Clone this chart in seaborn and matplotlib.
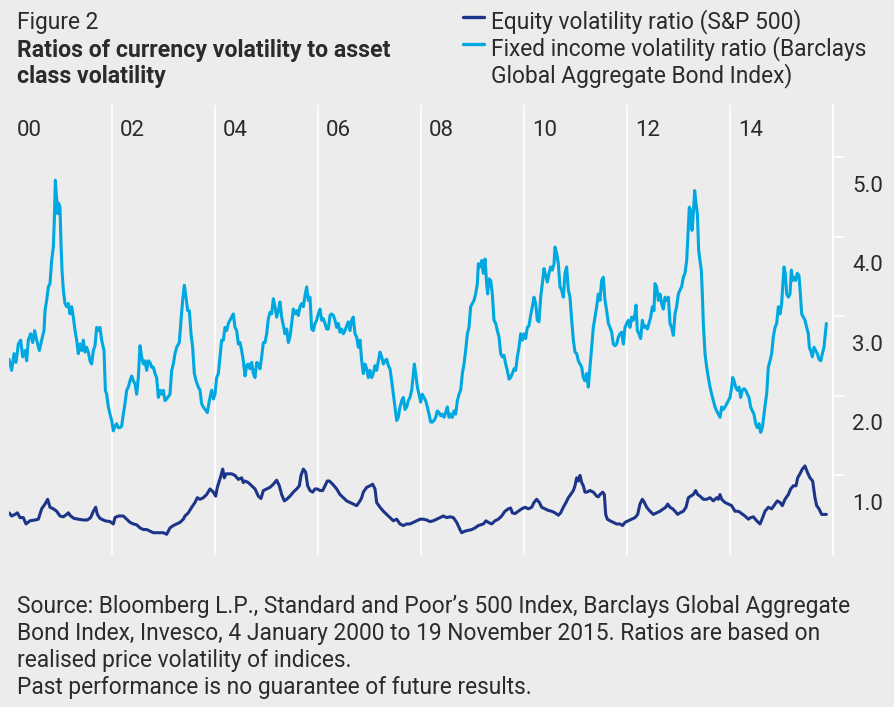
import matplotlib
matplotlib.use("Agg")
import matplotlib.pyplot as plt
import matplotlib.transforms as mtransforms
from matplotlib.lines import Line2D
import seaborn as sns
import pandas as pd

# ───────────── data (years since 4 Jan 2000, ratio) ─────────────
fi_t = [0.000, 0.052, 0.097, 0.136, 0.181, 0.227, 0.265, 0.311, 0.343, 0.375, 0.421, 0.460, 0.498, 0.537, 0.589,
        0.634, 0.680, 0.699, 0.731, 0.764, 0.796, 0.828, 0.861, 0.880, 0.900, 0.926, 0.945, 0.964, 0.990, 1.010,
        1.029, 1.055, 1.087, 1.120, 1.152, 1.184, 1.217, 1.249, 1.282, 1.314, 1.346, 1.379, 1.411, 1.443, 1.476,
        1.508, 1.540, 1.573, 1.605, 1.638, 1.670, 1.702, 1.735, 1.767, 1.799, 1.845, 1.871, 1.896, 1.929, 1.961,
        1.994, 2.026, 2.058, 2.091, 2.123, 2.155, 2.188, 2.220, 2.252, 2.285, 2.317, 2.350, 2.382, 2.414, 2.447,
        2.479, 2.511, 2.544, 2.576, 2.608, 2.641, 2.673, 2.706, 2.738, 2.770, 2.803, 2.835, 2.867, 2.900, 2.932,
        2.964, 2.997, 3.029, 3.061, 3.126, 3.159, 3.191, 3.223, 3.256, 3.307, 3.340, 3.372, 3.405, 3.437, 3.469,
        3.502, 3.534, 3.566, 3.599, 3.631, 3.676, 3.709, 3.741, 3.773, 3.806, 3.851, 3.890, 3.935, 3.968, 4.000,
        4.032, 4.065, 4.097, 4.129, 4.162, 4.194, 4.227, 4.259, 4.291, 4.324, 4.356, 4.388, 4.421, 4.453, 4.485,
        4.518, 4.550, 4.583, 4.615, 4.647, 4.680, 4.712, 4.744, 4.777, 4.809, 4.841, 4.874, 4.906, 4.939, 4.971,
        5.003, 5.036, 5.068, 5.100, 5.133, 5.165, 5.197, 5.230, 5.262, 5.294, 5.327, 5.359, 5.392, 5.424, 5.456,
        5.489, 5.521, 5.553, 5.586, 5.618, 5.650, 5.683, 5.715, 5.748, 5.780, 5.812, 5.845, 5.877, 5.909, 5.942,
        5.974, 6.006, 6.039, 6.071, 6.104, 6.136, 6.168, 6.201, 6.233, 6.265, 6.298, 6.330, 6.362, 6.395, 6.427,
        6.460, 6.492, 6.524, 6.557, 6.589, 6.621, 6.654, 6.686, 6.718, 6.751, 6.783, 6.816, 6.848, 6.880, 6.913,
        6.945, 6.977, 7.010, 7.042, 7.074, 7.107, 7.139, 7.172, 7.204, 7.236, 7.269, 7.301, 7.333, 7.366, 7.398,
        7.430, 7.463, 7.495, 7.528, 7.560, 7.592, 7.625, 7.657, 7.689, 7.722, 7.754, 7.786, 7.819, 7.851, 7.871,
        7.896, 7.929, 7.961, 7.994, 8.026, 8.058, 8.091, 8.123, 8.155, 8.188, 8.220, 8.252, 8.285, 8.317, 8.350,
        8.382, 8.414, 8.447, 8.479, 8.511, 8.544, 8.576, 8.608, 8.641, 8.673, 8.706, 8.738, 8.770, 8.803, 8.835,
        8.867, 8.900, 8.932, 8.964, 8.997, 9.029, 9.061, 9.094, 9.113, 9.146, 9.178, 9.210, 9.243, 9.275, 9.294,
        9.320, 9.353, 9.385, 9.417, 9.450, 9.482, 9.515, 9.547, 9.579, 9.612, 9.644, 9.676, 9.709, 9.741, 9.773,
        9.806, 9.838, 9.871, 9.903, 9.935, 9.968, 10.000, 10.032, 10.065, 10.097, 10.129, 10.162, 10.194, 10.227,
        10.259, 10.291, 10.324, 10.356, 10.388, 10.421, 10.453, 10.485, 10.518, 10.550, 10.583, 10.602, 10.634,
        10.667, 10.699, 10.731, 10.764, 10.796, 10.828, 10.861, 10.893, 10.926, 10.958, 10.990, 11.023, 11.055,
        11.087, 11.120, 11.152, 11.184, 11.217, 11.249, 11.282, 11.314, 11.346, 11.379, 11.411, 11.443, 11.476,
        11.508, 11.540, 11.573, 11.605, 11.638, 11.670, 11.702, 11.735, 11.767, 11.799, 11.832, 11.864, 11.896,
        11.929, 11.961, 11.994, 12.026, 12.058, 12.091, 12.123, 12.155, 12.175, 12.201, 12.233, 12.265, 12.298,
        12.330, 12.362, 12.395, 12.427, 12.460, 12.492, 12.524, 12.544, 12.576, 12.608, 12.641, 12.673, 12.706,
        12.738, 12.770, 12.803, 12.835, 12.867, 12.900, 12.932, 12.964, 12.997, 13.029, 13.061, 13.094, 13.126,
        13.159, 13.191, 13.210, 13.236, 13.262, 13.288, 13.314, 13.340, 13.366, 13.392, 13.417, 13.443, 13.463,
        13.482, 13.515, 13.547, 13.579, 13.612, 13.644, 13.676, 13.709, 13.741, 13.773, 13.806, 13.838, 13.871,
        13.903, 13.935, 13.968, 14.000, 14.032, 14.052, 14.078, 14.110, 14.142, 14.175, 14.207, 14.239, 14.272,
        14.304, 14.337, 14.369, 14.401, 14.434, 14.466, 14.498, 14.531, 14.563, 14.595, 14.628, 14.660, 14.693,
        14.712, 14.744, 14.777, 14.809, 14.841, 14.874, 14.906, 14.939, 14.971, 15.003, 15.023, 15.049, 15.074,
        15.100, 15.133, 15.165, 15.191, 15.217, 15.243, 15.275, 15.307, 15.340, 15.366, 15.392, 15.424, 15.456,
        15.489, 15.521, 15.540, 15.566, 15.599, 15.631, 15.663, 15.696, 15.728, 15.761, 15.793, 15.825, 15.851,
        15.871]
fi_ratio = [2.46, 2.32, 2.53, 2.42, 2.65, 2.70, 2.49, 2.57, 2.44, 2.70, 2.78, 2.67, 2.82, 2.70, 2.57,
            2.70, 2.82, 3.07, 3.20, 3.37, 3.41, 3.70, 3.87, 4.21, 4.71, 4.46, 4.29, 4.42, 4.37, 3.91,
            3.58, 3.33, 3.16, 3.12, 3.16, 3.03, 3.12, 2.99, 2.82, 2.70, 2.53, 2.65, 2.57, 2.70, 2.55,
            2.61, 2.55, 2.44, 2.40, 2.57, 2.63, 2.86, 2.82, 2.86, 2.70, 2.57, 2.07, 2.02, 1.86, 1.77,
            1.69, 1.56, 1.62, 1.65, 1.60, 1.60, 1.62, 1.77, 1.90, 2.07, 2.11, 2.19, 2.25, 2.19, 2.15,
            2.02, 2.23, 2.63, 2.49, 2.40, 2.44, 2.32, 2.44, 2.42, 2.36, 2.36, 2.28, 2.23, 1.98, 2.07,
            2.02, 2.07, 1.94, 1.96, 2.02, 2.32, 2.40, 2.53, 2.61, 2.67, 2.95, 3.20, 3.39, 3.24, 3.07,
            3.07, 2.78, 2.61, 2.28, 2.19, 2.11, 2.07, 1.90, 1.86, 1.83, 1.79, 1.94, 2.07, 1.96, 2.02,
            2.23, 2.28, 2.49, 2.70, 2.70, 2.86, 2.82, 2.91, 2.95, 2.99, 3.03, 2.86, 2.82, 2.65, 2.67,
            2.57, 2.44, 2.25, 2.38, 2.40, 2.34, 2.42, 2.28, 2.23, 2.42, 2.40, 2.34, 2.49, 2.67, 2.67,
            2.78, 2.97, 3.05, 3.03, 3.22, 3.12, 2.99, 3.07, 3.18, 2.99, 2.88, 2.78, 2.84, 2.67, 2.74,
            2.91, 3.09, 3.03, 3.07, 3.01, 3.12, 3.16, 3.12, 3.26, 3.37, 3.20, 3.24, 2.84, 2.82, 2.91,
            2.95, 3.03, 3.09, 2.95, 2.97, 2.91, 2.84, 2.84, 3.01, 3.03, 3.01, 2.95, 2.86, 2.91, 2.80,
            2.84, 2.78, 2.82, 2.88, 2.93, 2.82, 2.95, 2.99, 2.78, 2.74, 2.61, 2.70, 2.44, 2.28, 2.40,
            2.34, 2.23, 2.32, 2.23, 2.28, 2.38, 2.32, 2.44, 2.55, 2.49, 2.40, 2.44, 2.46, 2.38, 2.34,
            2.19, 2.02, 1.86, 1.69, 1.73, 1.86, 1.94, 1.98, 1.83, 1.86, 1.94, 1.98, 2.07, 2.28, 2.40,
            2.28, 2.11, 2.02, 1.92, 2.02, 1.98, 1.94, 1.86, 1.77, 1.67, 1.67, 1.69, 1.73, 1.81, 1.79,
            1.75, 1.77, 1.73, 1.79, 1.86, 1.73, 1.77, 1.73, 1.81, 1.77, 1.94, 2.02, 2.07, 2.28, 2.40,
            2.57, 2.78, 2.86, 3.12, 3.16, 3.20, 3.28, 3.41, 3.66, 3.62, 3.70, 3.54, 3.72, 3.41, 3.28,
            3.47, 3.45, 3.28, 2.95, 2.91, 2.82, 2.74, 2.53, 2.49, 2.51, 2.40, 2.32, 2.21, 2.23, 2.28,
            2.34, 2.32, 2.49, 2.61, 2.78, 2.70, 2.78, 2.72, 2.86, 2.88, 3.01, 3.12, 3.24, 3.16,
            2.95, 2.93, 3.24, 3.41, 3.60, 3.51, 3.43, 3.54, 3.62, 3.58, 3.66, 3.87, 3.79,
            3.66, 3.37, 3.33, 3.24, 3.54, 3.62, 3.33, 3.24, 2.95, 2.70, 2.55, 2.53, 2.44,
            2.40, 2.36, 2.23, 2.19, 2.28, 2.11, 2.36, 2.61, 2.86, 2.99, 3.12, 3.28, 3.20,
            3.45, 3.49, 3.20, 3.07, 2.91, 2.86, 2.80, 2.65, 2.63, 2.65, 2.74, 2.78, 2.80,
            2.65, 2.86, 2.91, 2.95, 2.86, 2.99, 2.95, 3.03, 3.14, 2.82, 2.78, 2.72, 2.95,
            2.86, 2.88, 2.84, 2.91, 2.99, 3.12, 3.07, 3.41, 3.37, 3.20, 3.28, 3.16, 3.09,
            3.24, 3.20, 3.24, 2.91, 2.86, 2.76, 3.03, 3.12, 3.28, 3.33, 3.37, 3.49, 3.54,
            3.70, 4.12, 4.37, 4.33, 4.08, 4.29, 4.58, 4.42, 4.29, 3.83, 3.70, 3.58, 3.28,
            2.91, 2.53, 2.36, 2.23, 2.11, 2.02, 1.94, 1.86, 1.81, 1.77, 1.73, 1.86, 1.83,
            1.86, 1.90, 1.94, 1.98, 2.11, 2.23, 2.19, 2.11, 2.07, 2.11, 1.98, 2.07, 2.09,
            2.07, 2.02, 1.98, 1.86, 1.81, 1.77, 1.65, 1.60, 1.65, 1.54, 1.60, 1.77, 1.94,
            2.02, 2.36, 2.44, 2.53, 2.74, 2.86, 2.91, 3.12, 3.03, 3.16, 3.37, 3.62, 3.54,
            3.28, 3.24, 3.28, 3.58, 3.45, 3.49, 3.45, 3.54, 3.51, 3.28, 3.03, 2.99, 2.95,
            2.86, 2.78, 2.61, 2.57, 2.49, 2.61, 2.57, 2.53, 2.46, 2.44, 2.53, 2.61, 2.78,
            2.91]

eq_t = [0.000, 0.052, 0.117, 0.162, 0.214, 0.278, 0.330, 0.408, 0.505, 0.570, 0.634, 0.699, 0.751, 0.796, 0.861,
        0.926, 0.990, 1.055, 1.120, 1.152, 1.197, 1.262, 1.346, 1.443, 1.521, 1.586, 1.638, 1.683, 1.715, 1.767,
        1.864, 1.961, 2.026, 2.058, 2.123, 2.220, 2.285, 2.350, 2.414, 2.479, 2.544, 2.608, 2.673, 2.738, 2.803,
        2.867, 2.932, 2.997, 3.061, 3.126, 3.191, 3.256, 3.320, 3.385, 3.417, 3.482, 3.547, 3.612, 3.657, 3.709,
        3.773, 3.838, 3.903, 3.968, 4.013, 4.045, 4.084, 4.117, 4.149, 4.181, 4.214, 4.259, 4.324, 4.388, 4.453,
        4.518, 4.550, 4.583, 4.647, 4.712, 4.777, 4.841, 4.893, 4.939, 5.003, 5.068, 5.133, 5.197, 5.249, 5.294,
        5.346, 5.392, 5.456, 5.521, 5.586, 5.638, 5.670, 5.715, 5.761, 5.799, 5.845, 5.896, 5.942, 5.987, 6.039,
        6.091, 6.136, 6.181, 6.220, 6.285, 6.362, 6.427, 6.492, 6.557, 6.621, 6.686, 6.751, 6.783, 6.816, 6.848,
        6.880, 6.945, 7.010, 7.061, 7.107, 7.139, 7.204, 7.269, 7.333, 7.398, 7.463, 7.528, 7.592, 7.657, 7.722,
        7.786, 7.851, 7.916, 7.981, 8.045, 8.110, 8.175, 8.239, 8.304, 8.369, 8.434, 8.498, 8.563, 8.628, 8.693,
        8.757, 8.790, 8.854, 8.919, 8.984, 9.049, 9.113, 9.210, 9.262, 9.307, 9.372, 9.437, 9.502, 9.566, 9.631,
        9.696, 9.741, 9.773, 9.825, 9.890, 9.955, 10.019, 10.084, 10.149, 10.194, 10.246, 10.298, 10.343, 10.408,
        10.472, 10.537, 10.602, 10.667, 10.712, 10.764, 10.816, 10.861, 10.906, 10.958, 10.990, 11.023, 11.055,
        11.087, 11.120, 11.152, 11.184, 11.217, 11.282, 11.346, 11.411, 11.443, 11.476, 11.528, 11.560, 11.586,
        11.618, 11.670, 11.735, 11.799, 11.864, 11.916, 11.961, 12.026, 12.091, 12.155, 12.207, 12.252, 12.298,
        12.337, 12.382, 12.447, 12.511, 12.576, 12.641, 12.706, 12.751, 12.790, 12.835, 12.887, 12.932, 12.984,
        13.029, 13.094, 13.146, 13.191, 13.236, 13.288, 13.333, 13.372, 13.417, 13.482, 13.547, 13.612, 13.676,
        13.741, 13.773, 13.806, 13.838, 13.903, 13.968, 14.032, 14.097, 14.162, 14.227, 14.291, 14.356, 14.401,
        14.453, 14.518, 14.583, 14.634, 14.680, 14.744, 14.809, 14.874, 14.919, 14.971, 15.016, 15.068, 15.133,
        15.178, 15.230, 15.282, 15.314, 15.359, 15.405, 15.456, 15.502, 15.553, 15.605, 15.650, 15.683, 15.728,
        15.780, 15.825, 15.871]
eq_ratio = [0.53, 0.49, 0.51, 0.53, 0.47, 0.47, 0.39, 0.43, 0.44, 0.45, 0.58, 0.64, 0.70, 0.60, 0.58,
            0.55, 0.49, 0.48, 0.51, 0.53, 0.49, 0.46, 0.45, 0.44, 0.44, 0.47, 0.55, 0.60, 0.51, 0.46,
            0.43, 0.42, 0.39, 0.47, 0.49, 0.49, 0.45, 0.41, 0.39, 0.38, 0.34, 0.32, 0.32, 0.30, 0.28,
            0.28, 0.28, 0.28, 0.26, 0.34, 0.37, 0.39, 0.41, 0.45, 0.49, 0.53, 0.60, 0.66, 0.72, 0.70,
            0.72, 0.76, 0.83, 0.79, 0.74, 0.85, 0.93, 1.00, 1.08, 0.97, 1.02, 1.02, 1.02, 1.00, 0.95,
            0.97, 0.91, 0.93, 0.91, 0.87, 0.83, 0.74, 0.71, 0.81, 0.83, 0.85, 0.89, 0.94, 0.87, 0.76,
            0.68, 0.70, 0.74, 0.79, 0.83, 0.87, 1.00, 1.08, 1.04, 0.87, 0.81, 0.79, 0.83, 0.83, 0.81,
            0.81, 0.87, 0.93, 0.93, 0.89, 0.83, 0.76, 0.72, 0.68, 0.66, 0.64, 0.62, 0.65, 0.68, 0.72,
            0.79, 0.85, 0.87, 0.89, 0.83, 0.66, 0.60, 0.55, 0.51, 0.47, 0.43, 0.45, 0.39, 0.37, 0.39,
            0.39, 0.41, 0.43, 0.45, 0.45, 0.44, 0.42, 0.43, 0.45, 0.47, 0.49, 0.47, 0.48, 0.47, 0.41,
            0.32, 0.28, 0.30, 0.31, 0.32, 0.34, 0.37, 0.39, 0.43, 0.41, 0.39, 0.43, 0.45, 0.49, 0.55,
            0.58, 0.59, 0.53, 0.52, 0.55, 0.58, 0.60, 0.58, 0.60, 0.66, 0.70, 0.66, 0.60, 0.58,
            0.56, 0.55, 0.53, 0.50, 0.53, 0.60, 0.66, 0.72, 0.76, 0.81, 0.87, 0.97, 0.93,
            1.00, 0.91, 0.87, 0.79, 0.79, 0.81, 0.79, 0.74, 0.73, 0.76, 0.79, 0.76, 0.51,
            0.45, 0.43, 0.41, 0.39, 0.39, 0.37, 0.41, 0.43, 0.45, 0.47, 0.51, 0.64, 0.70,
            0.66, 0.60, 0.55, 0.51, 0.53, 0.55, 0.58, 0.60, 0.64, 0.60, 0.58, 0.55, 0.51,
            0.53, 0.55, 0.60, 0.72, 0.74, 0.76, 0.81, 0.76, 0.74, 0.70, 0.70, 0.72, 0.68,
            0.72, 0.70, 0.76, 0.70, 0.66, 0.64, 0.62, 0.55, 0.55, 0.52, 0.49, 0.45, 0.47,
            0.48, 0.43, 0.39, 0.47, 0.55, 0.60, 0.58, 0.64, 0.68, 0.66, 0.62, 0.70, 0.76,
            0.83, 0.87, 0.87, 0.97, 1.02, 1.08, 1.12, 1.04, 0.97, 0.93, 0.72, 0.62, 0.58,
            0.51, 0.51, 0.51]

year_ticks = [0, 2, 4, 6, 8, 10, 12, 14]
year_labels = ["00", "02", "04", "06", "08", "10", "12", "14"]
grid_years = [2, 4, 6, 8, 10, 12, 14, 16]
y_ticks = [1.0, 2.0, 3.0, 4.0, 5.0]
y_labels = ["1.0", "2.0", "3.0", "4.0", "5.0"]

title_small = "Figure 2"
title_bold = ["Ratios of currency volatility to asset", "class volatility"]
legend_labels = ["Equity volatility ratio (S&P 500)",
                 "Fixed income volatility ratio (Barclays\nGlobal Aggregate Bond Index)"]
source_lines = ["Source: Bloomberg L.P., Standard and Poor\u2019s 500 Index, Barclays Global Aggregate",
                "Bond Index, Invesco, 4 January 2000 to 19 November 2015. Ratios are based on",
                "realised price volatility of indices.",
                "Past performance is no guarantee of future results."]

# ───────────── styling ─────────────
BG, NAVY, CYAN, INK = "#ebeceb", "#1d3589", "#00a8e1", "#2b2b2b"
FS = 16.4
sns.set_theme(style="white")
plt.rcParams["font.family"] = ["Roboto", "DejaVu Sans"]
plt.rcParams["text.color"] = INK

W, H = 894, 707
fig = plt.figure(figsize=(W / 100, H / 100), dpi=100, facecolor=BG)
ax = fig.add_axes([9 / W, 1 - 555 / H, 824 / W, 450 / H])
ax.set_facecolor(BG)

fi = pd.DataFrame({"t": fi_t, "ratio": fi_ratio})
eq = pd.DataFrame({"t": eq_t, "ratio": eq_ratio})
sns.lineplot(data=fi, x="t", y="ratio", ax=ax, color=CYAN, lw=2.2, zorder=3)
sns.lineplot(data=eq, x="t", y="ratio", ax=ax, color=NAVY, lw=2.2, zorder=4)

ax.set_xlim(0, 16)
ax.set_ylim(0, 5.655)
ax.set_xlabel(""); ax.set_ylabel("")
for side in ["top", "left", "bottom"]:
    ax.spines[side].set_visible(False)
ax.spines["right"].set_color("white"); ax.spines["right"].set_linewidth(1.2)

ax.set_xticks(grid_years)
ax.tick_params(axis="x", length=0, labelbottom=False)
ax.grid(axis="x", color="white", lw=1.2, zorder=1)
ax.grid(axis="y", visible=False)

ax.yaxis.tick_right()
ax.set_yticks(y_ticks)
ax.tick_params(axis="y", right=True, left=False, length=8.6, width=1.2, color="white",
               labelright=False, direction="out")

# y labels sit just under their tick mark
ylab_tr = mtransforms.blended_transform_factory(ax.transAxes, ax.transData) + \
    mtransforms.ScaledTranslation(19 / 100, -29 / 100, fig.dpi_scale_trans)
for v, lab in zip(y_ticks, y_labels):
    ax.text(1, v, lab, transform=ylab_tr, ha="left", va="center", fontsize=16, color=INK)

# year labels inside the top of the plot
xlab_tr = ax.transData + mtransforms.ScaledTranslation(8 / 100, 0, fig.dpi_scale_trans)
for x, lab in zip(year_ticks, year_labels):
    ax.text(x, 5.33, lab, transform=xlab_tr, ha="left", va="center", fontsize=16, color=INK)

# ───────────── titles, legend, source ─────────────
fx = lambda px: px / W
fy = lambda py: 1 - py / H
fig.text(fx(17), fy(22), title_small, fontsize=FS, va="center")
for i, line in enumerate(title_bold):
    fig.text(fx(17), fy(50 + 27 * i), line, fontsize=16.7, fontweight="bold", va="center")

for (ly, col) in [(17, NAVY), (44, CYAN)]:
    fig.add_artist(Line2D([fx(463), fx(484)], [fy(ly), fy(ly)], color=col, lw=2.4))
fig.text(fx(491), fy(22), legend_labels[0], fontsize=FS, va="center")
fig.text(fx(491), fy(49), legend_labels[1].split("\n")[0], fontsize=FS, va="center")
fig.text(fx(491), fy(76), legend_labels[1].split("\n")[1], fontsize=FS, va="center")

for i, line in enumerate(source_lines):
    fig.text(fx(17), fy(607 + 26.7 * i), line, fontsize=FS, va="center")

fig.savefig("out.png", dpi=100, facecolor=BG)
